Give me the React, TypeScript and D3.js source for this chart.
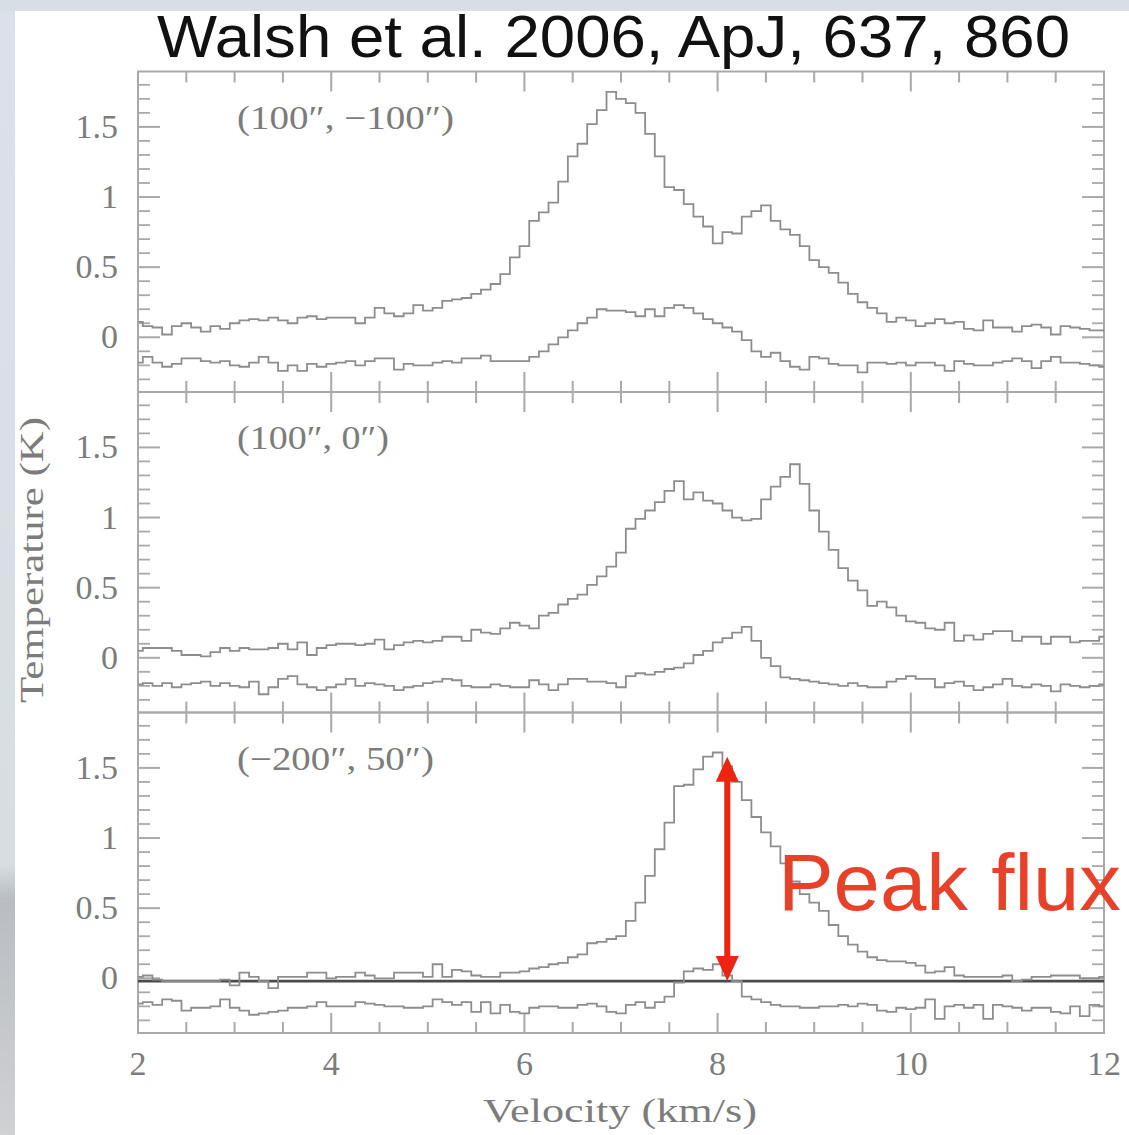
import React from "react";
import * as d3 from "d3";

// ---- data (channel centres start at 2.0 km/s, 0.1 km/s apart) ----
const V_START = 2.0;
const V_STEP = 0.1;

const P1_UPPER = [
  0.11, 0.08, 0.07, 0.02, 0.08, 0.10, 0.07, 0.04, 0.08, 0.06,
  0.10, 0.12, 0.13, 0.12, 0.14, 0.12, 0.10, 0.14, 0.15, 0.13,
  0.14, 0.14, 0.14, 0.10, 0.14, 0.21, 0.17, 0.15, 0.17, 0.23,
  0.19, 0.21, 0.26, 0.27, 0.28, 0.31, 0.34, 0.38, 0.45, 0.57,
  0.65, 0.83, 0.89, 0.96, 1.11, 1.29, 1.38, 1.52, 1.62, 1.75,
  1.70, 1.67, 1.60, 1.45, 1.29, 1.07, 1.05, 0.95, 0.86, 0.79,
  0.67, 0.75, 0.74, 0.86, 0.90, 0.94, 0.83, 0.77, 0.73, 0.65,
  0.55, 0.50, 0.46, 0.39, 0.31, 0.25, 0.21, 0.17, 0.11, 0.14,
  0.12, 0.08, 0.10, 0.13, 0.10, 0.11, 0.06, 0.05, 0.12, 0.07,
  0.07, 0.04, 0.08, 0.09, 0.07, 0.02, 0.08, 0.07, 0.06, 0.05, 0.05,
];
const P1_LOWER = [
  -0.18, -0.14, -0.18, -0.21, -0.19, -0.15, -0.15, -0.17, -0.18, -0.17,
  -0.20, -0.21, -0.18, -0.14, -0.18, -0.24, -0.20, -0.24, -0.19, -0.21,
  -0.19, -0.18, -0.17, -0.20, -0.17, -0.15, -0.15, -0.23, -0.19, -0.20,
  -0.20, -0.18, -0.17, -0.18, -0.15, -0.15, -0.13, -0.17, -0.17, -0.17,
  -0.17, -0.14, -0.10, -0.05, 0.00, 0.05, 0.10, 0.14, 0.20, 0.19,
  0.19, 0.18, 0.15, 0.20, 0.15, 0.21, 0.23, 0.21, 0.17, 0.13,
  0.10, 0.07, 0.04, -0.02, -0.10, -0.14, -0.11, -0.17, -0.21, -0.23,
  -0.14, -0.15, -0.19, -0.20, -0.20, -0.25, -0.18, -0.18, -0.19, -0.18,
  -0.20, -0.18, -0.18, -0.20, -0.24, -0.17, -0.19, -0.20, -0.20, -0.18,
  -0.17, -0.15, -0.17, -0.22, -0.17, -0.14, -0.18, -0.18, -0.19, -0.20, -0.21,
];
const P2_UPPER = [
  0.05, 0.07, 0.07, 0.07, 0.05, 0.02, 0.02, 0.01, 0.04, 0.07,
  0.05, 0.07, 0.06, 0.06, 0.07, 0.10, 0.06, 0.11, 0.02, 0.07,
  0.09, 0.10, 0.10, 0.09, 0.10, 0.13, 0.06, 0.09, 0.11, 0.12,
  0.11, 0.12, 0.15, 0.15, 0.12, 0.20, 0.18, 0.17, 0.21, 0.25,
  0.23, 0.21, 0.30, 0.32, 0.38, 0.42, 0.45, 0.52, 0.58, 0.65,
  0.75, 0.92, 0.99, 1.05, 1.11, 1.19, 1.26, 1.13, 1.18, 1.12,
  1.10, 1.05, 1.00, 0.98, 0.99, 1.13, 1.22, 1.29, 1.38, 1.24,
  1.05, 0.90, 0.77, 0.64, 0.55, 0.48, 0.37, 0.40, 0.36, 0.30,
  0.26, 0.25, 0.21, 0.20, 0.25, 0.12, 0.16, 0.13, 0.17, 0.19,
  0.19, 0.12, 0.15, 0.15, 0.10, 0.15, 0.15, 0.11, 0.12, 0.12, 0.15,
];
const P2_LOWER = [
  -0.19, -0.18, -0.20, -0.18, -0.21, -0.19, -0.18, -0.17, -0.20, -0.18,
  -0.20, -0.21, -0.17, -0.26, -0.21, -0.15, -0.13, -0.19, -0.21, -0.23,
  -0.21, -0.19, -0.15, -0.20, -0.18, -0.19, -0.20, -0.23, -0.21, -0.20,
  -0.18, -0.17, -0.15, -0.16, -0.20, -0.21, -0.21, -0.19, -0.20, -0.21,
  -0.21, -0.16, -0.19, -0.23, -0.19, -0.15, -0.15, -0.17, -0.17, -0.18,
  -0.21, -0.13, -0.11, -0.12, -0.10, -0.08, -0.07, -0.04, 0.02, 0.05,
  0.11, 0.14, 0.18, 0.22, 0.12, 0.00, -0.06, -0.14, -0.15, -0.16,
  -0.17, -0.18, -0.19, -0.20, -0.18, -0.20, -0.21, -0.21, -0.17, -0.15,
  -0.13, -0.15, -0.15, -0.21, -0.18, -0.17, -0.20, -0.23, -0.21, -0.19,
  -0.15, -0.20, -0.21, -0.19, -0.20, -0.24, -0.19, -0.20, -0.21, -0.20, -0.19,
];
const P3_UPPER = [
  0.01, 0.02, -0.01, -0.02, -0.02, -0.02, -0.02, -0.02, -0.02, -0.01,
  -0.05, 0.04, 0.01, -0.02, -0.07, 0.01, 0.01, 0.01, 0.04, 0.04,
  0.00, 0.01, 0.01, 0.04, 0.02, 0.00, 0.00, 0.04, 0.04, 0.04,
  0.01, 0.10, 0.01, 0.06, 0.05, 0.02, 0.01, 0.01, 0.04, 0.04,
  0.05, 0.07, 0.08, 0.10, 0.11, 0.15, 0.17, 0.25, 0.26, 0.28,
  0.30, 0.41, 0.54, 0.73, 0.92, 1.11, 1.37, 1.38, 1.49, 1.58,
  1.61, 1.51, 1.40, 1.27, 1.15, 1.04, 0.94, 0.82, 0.69, 0.60,
  0.54, 0.48, 0.38, 0.30, 0.24, 0.19, 0.15, 0.13, 0.12, 0.12,
  0.11, 0.09, 0.04, 0.05, 0.08, 0.02, 0.01, 0.01, 0.01, 0.01,
  0.02, -0.02, -0.01, 0.01, 0.01, 0.02, 0.02, 0.02, 0.00, 0.00, 0.01,
];
const P3_LOWER = [
  -0.18, -0.17, -0.19, -0.15, -0.16, -0.23, -0.21, -0.21, -0.20, -0.15,
  -0.21, -0.23, -0.26, -0.25, -0.24, -0.23, -0.21, -0.21, -0.20, -0.17,
  -0.20, -0.20, -0.20, -0.17, -0.18, -0.19, -0.20, -0.20, -0.21, -0.21,
  -0.20, -0.15, -0.17, -0.19, -0.17, -0.24, -0.17, -0.25, -0.19, -0.24,
  -0.25, -0.21, -0.20, -0.20, -0.21, -0.21, -0.19, -0.18, -0.20, -0.24,
  -0.25, -0.19, -0.17, -0.21, -0.17, -0.13, -0.03, 0.05, 0.07, 0.06,
  0.10, 0.02, -0.02, -0.13, -0.15, -0.17, -0.19, -0.20, -0.20, -0.21,
  -0.21, -0.20, -0.20, -0.19, -0.20, -0.18, -0.19, -0.23, -0.24, -0.21,
  -0.22, -0.21, -0.15, -0.29, -0.20, -0.19, -0.21, -0.19, -0.29, -0.19,
  -0.20, -0.21, -0.23, -0.21, -0.21, -0.24, -0.25, -0.20, -0.27, -0.19, -0.20,
];

const PANEL_LABELS = ["(100\u2033, \u2212100\u2033)", "(100\u2033, 0\u2033)", "(\u2212200\u2033, 50\u2033)"];
const X_DOMAIN = [2, 12];
const Y_DOMAIN = [-0.39, 1.895];
const X_MAJOR = [2, 4, 6, 8, 10, 12];
const X_LABELS = ["2", "4", "6", "8", "10", "12"];
const Y_MAJOR = [0, 0.5, 1, 1.5];
const Y_LABELS = ["0", "0.5", "1", "1.5"];
const TITLE = "Walsh et al. 2006, ApJ, 637, 860";
const X_TITLE = "Velocity (km/s)";
const Y_TITLE = "Temperature (K)";
const ANNOT = "Peak flux";
const PEAK_V = 8.1;
const PEAK_RANGE = [-0.02, 1.58];
const BASELINE_T = -0.02;

const SERIF = "'Liberation Serif', 'DejaVu Serif', serif";
const SANS = "'Liberation Sans', Arial, Helvetica, sans-serif";

export default function App() {
  const W = 1129;
  const H = 1135;
  const x = d3.scaleLinear().domain(X_DOMAIN).range([138, 1104]);
  const tops = [71.5, 392, 712.5];
  const PH = 320.5;
  const vel = d3.range(P1_UPPER.length).map((i) => +(V_START + i * V_STEP).toFixed(2));
  const series = [
    [P1_UPPER, P1_LOWER],
    [P2_UPPER, P2_LOWER],
    [P3_UPPER, P3_LOWER],
  ];
  const labelWidths = [217, 152, 197];

  const frameColor = "#a9a9a9";
  const curveColor = "#8d8d8d";
  const textGray = "#7c7c7c";

  const xMinor = d3.range(4, 24).map((i) => i / 2).filter((v) => v % 2 !== 0 && v > 2 && v < 12);
  const yMinor = d3.range(-3, 19).map((i) => i / 10).filter((t) => Math.abs(t * 2 - Math.round(t * 2)) > 1e-6);

  const panels = tops.map((top, pi) => {
    const y = d3.scaleLinear().domain(Y_DOMAIN).range([top + PH, top]);
    const line = d3
      .line<number>()
      .x((_, i) => x(vel[i]))
      .y((d) => y(d))
      .curve(d3.curveStep);
    const left = x.range()[0];
    const right = x.range()[1];
    const bottom = top + PH;
    return (
      <g key={pi}>
        <rect x={left} y={top} width={right - left} height={PH} fill="none" stroke={frameColor} strokeWidth={2} />
        {/* x ticks, top and bottom */}
        {X_MAJOR.filter((v) => v > 2 && v < 12).map((v) => (
          <g key={"xM" + v}>
            <line x1={x(v)} x2={x(v)} y1={top} y2={top + 20} stroke={frameColor} strokeWidth={2} />
            <line x1={x(v)} x2={x(v)} y1={bottom} y2={bottom - 20} stroke={frameColor} strokeWidth={2} />
          </g>
        ))}
        {xMinor.map((v) => (
          <g key={"xm" + v}>
            <line x1={x(v)} x2={x(v)} y1={top} y2={top + 11} stroke={frameColor} strokeWidth={2} />
            <line x1={x(v)} x2={x(v)} y1={bottom} y2={bottom - 11} stroke={frameColor} strokeWidth={2} />
          </g>
        ))}
        {/* y ticks, left and right */}
        {Y_MAJOR.map((t) => (
          <g key={"yM" + t}>
            <line x1={left} x2={left + 22} y1={y(t)} y2={y(t)} stroke={frameColor} strokeWidth={2} />
            <line x1={right} x2={right - 22} y1={y(t)} y2={y(t)} stroke={frameColor} strokeWidth={2} />
          </g>
        ))}
        {yMinor.map((t) => (
          <g key={"ym" + t}>
            <line x1={left} x2={left + 12} y1={y(t)} y2={y(t)} stroke={frameColor} strokeWidth={1.8} />
            <line x1={right} x2={right - 12} y1={y(t)} y2={y(t)} stroke={frameColor} strokeWidth={1.8} />
          </g>
        ))}
        {Y_MAJOR.map((t, i) => (
          <text
            key={"yl" + t}
            x={118}
            y={y(t) + 11}
            textAnchor="end"
            fontFamily={SERIF}
            fontSize={34}
            fill={textGray}
          >
            {Y_LABELS[i]}
          </text>
        ))}
        <text
          x={237}
          y={top + 57}
          fontFamily={SERIF}
          fontSize={33}
          fill={textGray}
          textLength={labelWidths[pi]}
          lengthAdjust="spacingAndGlyphs"
        >
          {PANEL_LABELS[pi]}
        </text>
        {pi === 2 && (
          <line
            x1={left}
            x2={right}
            y1={y(BASELINE_T)}
            y2={y(BASELINE_T)}
            stroke="#4a4a4a"
            strokeWidth={2.6}
          />
        )}
        {series[pi].map((s, si) => (
          <path key={si} d={line(s) || ""} fill="none" stroke={curveColor} strokeWidth={1.8} />
        ))}
        {pi === 2 && (() => {
          const ax = x(PEAK_V);
          const yT = y(PEAK_RANGE[1]);
          const yB = y(PEAK_RANGE[0]);
          const red = "#ee2412";
          return (
            <g>
              <line x1={ax} x2={ax} y1={yT + 18} y2={yB - 18} stroke={red} strokeWidth={6} />
              <path d={`M${ax},${yT} L${ax + 11.5},${yT + 25} L${ax - 11.5},${yT + 25} Z`} fill={red} />
              <path d={`M${ax},${yB} L${ax + 11.5},${yB - 25} L${ax - 11.5},${yB - 25} Z`} fill={red} />
            </g>
          );
        })()}
      </g>
    );
  });

  return (
    <svg
      width={W}
      height={H}
      viewBox={`0 0 ${W} ${H}`}
      style={{ position: "absolute", left: 0, top: 0, display: "block" }}
    >
      <defs>
        <linearGradient id="leftStrip" x1="0" y1="0" x2="0" y2="1">
          <stop offset="0" stopColor="#d9e1ea" />
          <stop offset="0.76" stopColor="#d6dde5" />
          <stop offset="0.79" stopColor="#b9bdc1" />
          <stop offset="0.88" stopColor="#c3c6c9" />
          <stop offset="1" stopColor="#cfd1d3" />
        </linearGradient>
      </defs>
      <rect x={0} y={0} width={W} height={H} fill="#d8dee6" />
      <rect x={0} y={11} width={15} height={H - 11} fill="url(#leftStrip)" />
      <rect x={15} y={11} width={W - 15} height={H - 11} fill="#ffffff" />

      <text
        x={157}
        y={57}
        fontFamily={SANS}
        fontSize={59}
        fill="#111111"
        textLength={913}
        lengthAdjust="spacingAndGlyphs"
      >
        {TITLE}
      </text>

      {panels}

      {X_MAJOR.map((v, i) => (
        <text
          key={"xl" + v}
          x={x(v)}
          y={1075}
          textAnchor="middle"
          fontFamily={SERIF}
          fontSize={34}
          fill={textGray}
        >
          {X_LABELS[i]}
        </text>
      ))}
      <text
        x={620}
        y={1122}
        textAnchor="middle"
        fontFamily={SERIF}
        fontSize={34}
        fill={textGray}
        textLength={274}
        lengthAdjust="spacingAndGlyphs"
      >
        {X_TITLE}
      </text>
      <text
        transform="translate(43,560) rotate(-90)"
        textAnchor="middle"
        fontFamily={SERIF}
        fontSize={33}
        fill={textGray}
        textLength={286}
        lengthAdjust="spacingAndGlyphs"
      >
        {Y_TITLE}
      </text>

      <text
        x={778}
        y={910}
        fontFamily={SANS}
        fontSize={80}
        fill="#e8412a"
        textLength={343}
        lengthAdjust="spacingAndGlyphs"
      >
        {ANNOT}
      </text>
    </svg>
  );
}
